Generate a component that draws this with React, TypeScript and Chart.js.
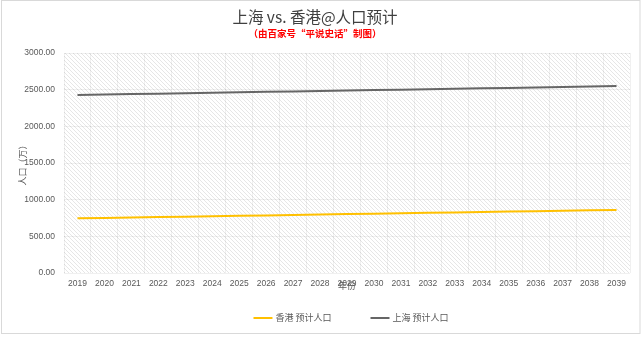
import React, { useEffect, useRef } from "react";
import { Chart, registerables } from "chart.js";

Chart.register(...registerables);

const years = ["2019","2020","2021","2022","2023","2024","2025","2026","2027","2028","2029","2030","2031","2032","2033","2034","2035","2036","2037","2038","2039"];
const hongKong = [745, 751, 757, 762, 768, 774, 780, 785, 791, 797, 803, 808, 814, 820, 826, 831, 837, 843, 849, 854, 860];
const shanghai = [2428, 2434, 2440, 2446, 2452, 2458, 2464, 2470, 2476, 2482, 2488, 2494, 2500, 2506, 2512, 2518, 2524, 2530, 2536, 2542, 2550];
const seriesNames = ["香港 预计人口", "上海 预计人口"];
const seriesColors = ["#FFC000", "#666666"];
const titleText = "上海 vs. 香港@人口预计";
const subtitleText = "（由百家号“平说史话”制图）";
const yTitle = "人口（万）";
const xTitle = "年份";

const CJK = "'Noto Sans CJK SC', 'Noto Sans', sans-serif";
const TICK = "'Liberation Sans', Arial, sans-serif";

function makePattern(): CanvasPattern | string {
  const c = document.createElement("canvas");
  c.width = 4; c.height = 4;
  const g = c.getContext("2d");
  if (!g) return "#f4f4f4";
  g.fillStyle = "#ffffff";
  g.fillRect(0, 0, 4, 4);
  g.fillStyle = "#e6e6e6";
  for (let i = 0; i < 4; i++) g.fillRect(i, i, 1, 1);
  const p = g.createPattern(c, "repeat");
  return p || "#f4f4f4";
}

export default function App() {
  const ref = useRef<HTMLCanvasElement | null>(null);
  useEffect(() => {
    if (!ref.current) return;
    const pattern = makePattern();
    const bgPlugin = {
      id: "bgPlugin",
      beforeDraw(chart: any) {
        const { ctx, chartArea: a } = chart;
        ctx.save();
        ctx.fillStyle = "#ffffff";
        ctx.fillRect(0, 0, chart.width, chart.height);
        ctx.fillStyle = pattern;
        ctx.fillRect(a.left, a.top, a.right - a.left, a.bottom - a.top);
        ctx.restore();
      },
      afterDraw(chart: any) {
        const { ctx, chartArea: a } = chart;
        ctx.save();
        ctx.strokeStyle = "#d9d9d9";
        ctx.lineWidth = 1;
        ctx.strokeRect(1.5, 0.5, chart.width - 2.5, 333);
        ctx.font = `9px ${CJK}`;
        ctx.textBaseline = "middle";
        const lineLen = 19, gapText = 3, gapItem = 39;
        const widths = seriesNames.map((n) => lineLen + gapText + ctx.measureText(n).width);
        const total = widths.reduce((s, w) => s + w, 0) + gapItem * (widths.length - 1);
        let x = (a.left + a.right) / 2 + 4 - total / 2;
        const y = 318;
        seriesNames.forEach((n, i) => {
          ctx.strokeStyle = seriesColors[i];
          ctx.lineWidth = 2;
          ctx.beginPath();
          ctx.moveTo(x, y);
          ctx.lineTo(x + lineLen, y);
          ctx.stroke();
          ctx.fillStyle = "#595959";
          ctx.textAlign = "left";
          ctx.fillText(n, x + lineLen + gapText, y);
          x += widths[i] + gapItem;
        });
        ctx.restore();
      },
    };
    const chart = new Chart(ref.current, {
      type: "line",
      data: {
        labels: years,
        datasets: [
          { label: seriesNames[0], data: hongKong, borderColor: seriesColors[0], backgroundColor: seriesColors[0], borderWidth: 2, pointRadius: 0, tension: 0 },
          { label: seriesNames[1], data: shanghai, borderColor: seriesColors[1], backgroundColor: seriesColors[1], borderWidth: 2, pointRadius: 0, tension: 0 },
        ],
      },
      options: {
        animation: false,
        responsive: false,
        devicePixelRatio: 1,
        layout: { padding: { left: 0, right: 11, top: 0, bottom: 45 } },
        plugins: {
          legend: { display: false },
          tooltip: { enabled: false },
          title: {
            display: true,
            text: titleText,
            color: "#404040",
            font: { family: CJK, size: 15.5, weight: "normal" },
            padding: { top: 8, bottom: 0 },
          },
          subtitle: {
            display: true,
            text: subtitleText,
            color: "#ff0000",
            font: { family: CJK, size: 9.5, weight: "bold" },
            padding: { top: 1, bottom: 14 },
          },
        },
        scales: {
          x: {
            type: "category",
            offset: true,
            grid: { display: true, offset: true, color: "rgba(0,0,0,0.06)", drawTicks: false },
            border: { display: false },
            ticks: { color: "#595959", font: { family: TICK, size: 8.5 }, padding: 6, maxRotation: 0, autoSkip: false },
            title: { display: true, text: xTitle, color: "#595959", font: { family: CJK, size: 9 }, padding: { top: 0, bottom: 1.6 } },
            afterFit(scale: any) { scale.height = 20; },
          },
          y: {
            min: 0,
            max: 3000,
            grid: { color: "rgba(0,0,0,0.06)", drawTicks: false },
            border: { display: false },
            ticks: { stepSize: 500, color: "#595959", font: { family: TICK, size: 8.5 }, padding: 9, callback: (v: any) => Number(v).toFixed(2) },
            title: { display: true, text: yTitle, color: "#595959", font: { family: CJK, size: 9 }, padding: { top: 17.6, bottom: 0 } },
            afterFit(scale: any) { scale.width = 64; },
          },
        },
      },
      plugins: [bgPlugin],
    } as any);
    return () => chart.destroy();
  }, []);
  return (
    <div style={{ position: "fixed", left: 0, top: 0, width: 641, height: 338, background: "#fff" }}>
      <canvas ref={ref} width={641} height={338} style={{ display: "block", width: 641, height: 338 }} />
    </div>
  );
}
